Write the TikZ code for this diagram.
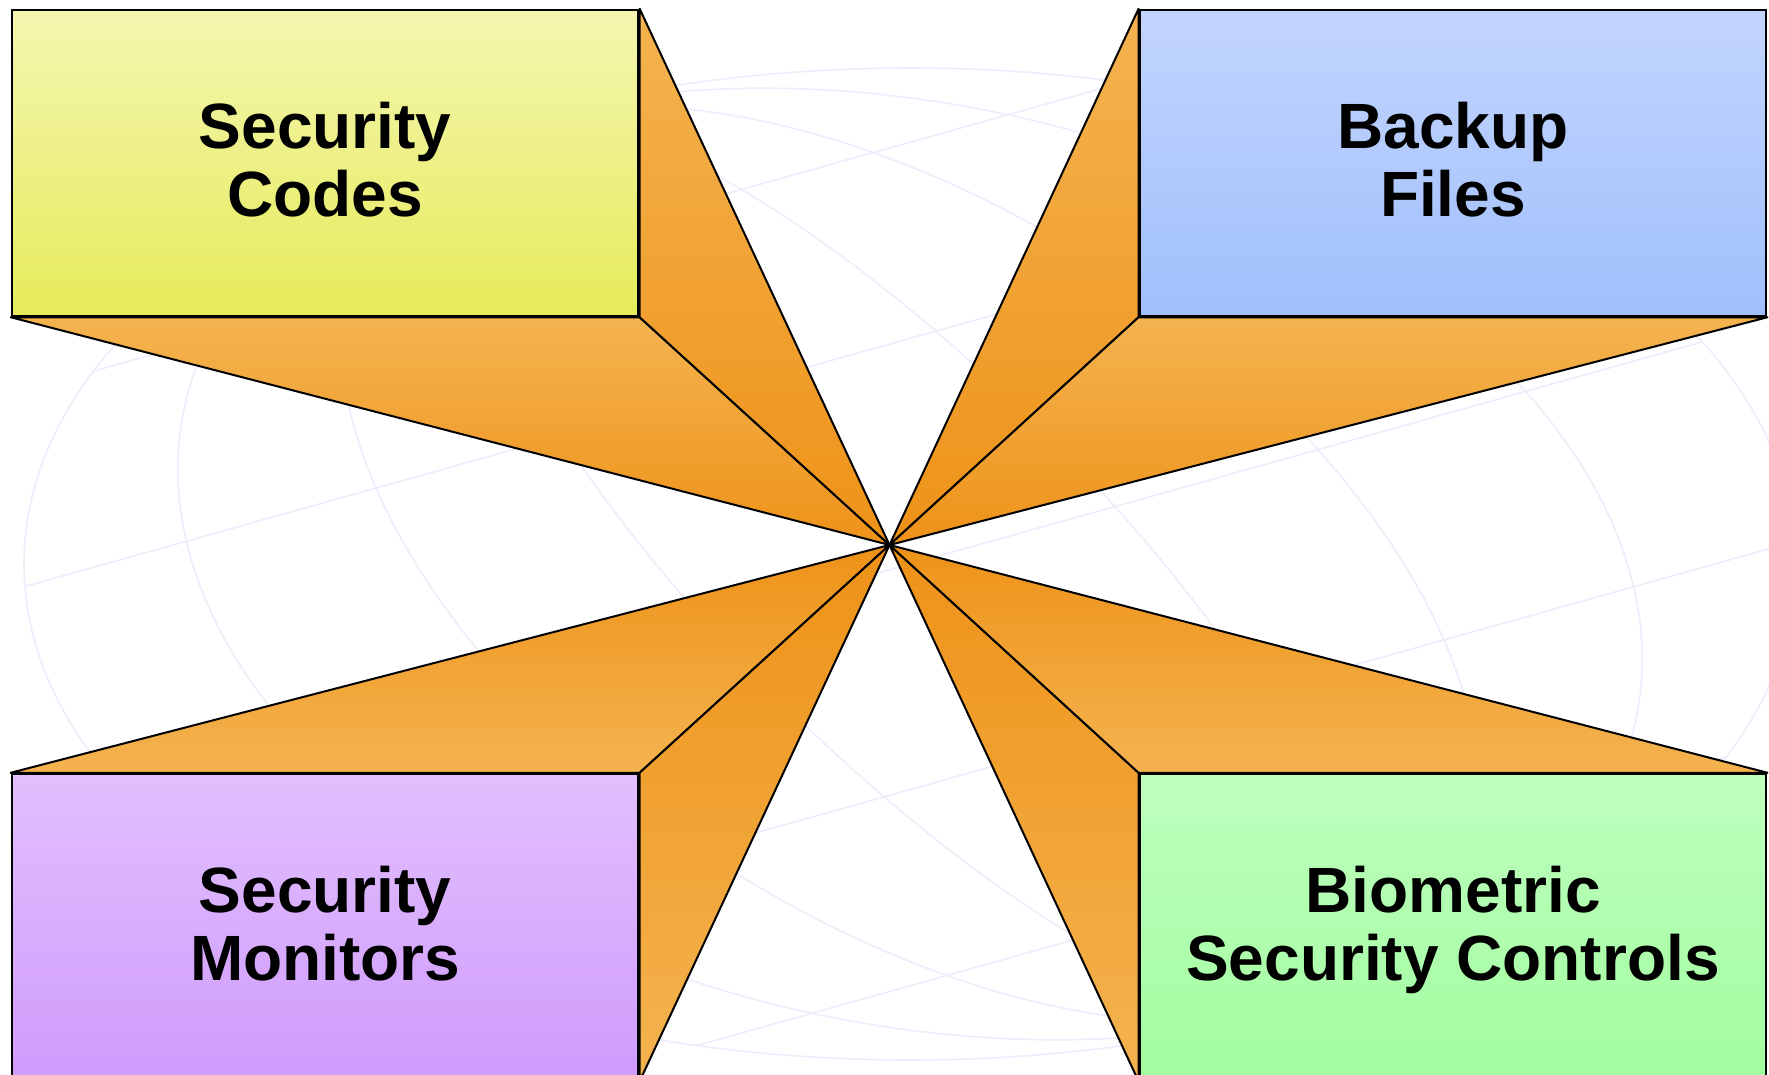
\documentclass[tikz,border=0pt]{standalone}
\usepackage{fontspec}
\setmainfont{Liberation Sans}
\definecolor{olight}{RGB}{244,179,80}
\definecolor{odark}{RGB}{238,146,24}
\definecolor{globec}{RGB}{237,237,251}
\definecolor{ytop}{RGB}{244,246,176}
\definecolor{ybot}{RGB}{230,235,90}
\definecolor{btop}{RGB}{195,213,254}
\definecolor{bbot}{RGB}{160,191,252}
\definecolor{ptop}{RGB}{226,191,254}
\definecolor{pbot}{RGB}{207,155,252}
\definecolor{gtop}{RGB}{190,255,190}
\definecolor{gbot}{RGB}{162,253,160}
\begin{document}
\begin{tikzpicture}[x=1pt,y=-1pt,
  globe/.style={draw=globec, line width=1.6pt},
  face/.style={draw=black, line width=2pt, line join=round},
  facedn/.style={face, top color=olight, bottom color=odark},
  faceup/.style={face, top color=odark, bottom color=olight},
  box/.style={draw=black, line width=2.5pt, minimum width=626.4pt, minimum height=306pt, inner sep=0pt},
  lbl/.style={font=\fontsize{64}{68}\selectfont\bfseries, align=center, anchor=base, inner sep=0pt}
]
\useasboundingbox (0,0) rectangle (1769,1075);
\clip (0,0) rectangle (1769,1075);
\fill[white] (0,0) rectangle (1769,1075);

% faint globe in the background
\def\al{26.6}
\draw[globe] (910,564) ellipse [x radius=886, y radius=496];
\foreach \l in {-51,-31,-15,15,31,51} {
  \draw[globe] plot[domain=-90:90, samples=72, variable=\t]
    ({910+886*(cos(\t)*sin(\l)*cos(\al)-sin(\t)*sin(\al))},
     {564-496*(cos(\t)*sin(\l)*sin(\al)+sin(\t)*cos(\al))});
}
\foreach \p in {-49.5,-24,0,24,49.5} {
  \draw[globe]
    ({910+886*(-cos(\p)*cos(\al)-sin(\p)*sin(\al))},{564-496*(-cos(\p)*sin(\al)+sin(\p)*cos(\al))})
    -- ({910+886*(cos(\p)*cos(\al)-sin(\p)*sin(\al))},{564-496*(cos(\p)*sin(\al)+sin(\p)*cos(\al))});
}

% boxes (nodes) and centre
\coordinate (c) at (889.5,545);
\path (325.2,163) node[box] (codes) {};
\path (1453,163) node[box] (backup) {};
\path (325.2,927) node[box] (monitors) {};
\path (1453,927) node[box] (biometric) {};

% orange faces
\path[facedn] (codes.south west) -- (codes.south east) -- (c) -- cycle;
\path[facedn] (codes.north east) -- (codes.south east) -- (c) -- cycle;
\path[facedn] (backup.north west) -- (backup.south west) -- (c) -- cycle;
\path[facedn] (backup.south west) -- (backup.south east) -- (c) -- cycle;
\path[faceup] (monitors.north west) -- (monitors.north east) -- (c) -- cycle;
\path[faceup] (monitors.north east) -- (monitors.south east) -- (c) -- cycle;
\path[faceup] (biometric.north west) -- (biometric.south west) -- (c) -- cycle;
\path[faceup] (biometric.north west) -- (biometric.north east) -- (c) -- cycle;

% boxes drawn on top
\path (325.2,163) node[box, top color=ytop, bottom color=ybot] (codesbox) {};
\path (1453,163) node[box, top color=btop, bottom color=bbot] (backupbox) {};
\path (325.2,927) node[box, top color=ptop, bottom color=pbot] (monitorsbox) {};
\path (1453,927) node[box, top color=gtop, bottom color=gbot] (biometricbox) {};

% labels (base anchor = baseline of the last line)
\node[lbl] (codest) at (325.2,217) {Security\\Codes};
\node[lbl] (backupt) at (1453,217) {Backup\\Files};
\node[lbl] (monitorst) at (325.2,980.5) {Security\\Monitors};
\node[lbl] (biometrict) at (1453,980) {Biometric\\Security Controls};
\end{tikzpicture}
\end{document}
